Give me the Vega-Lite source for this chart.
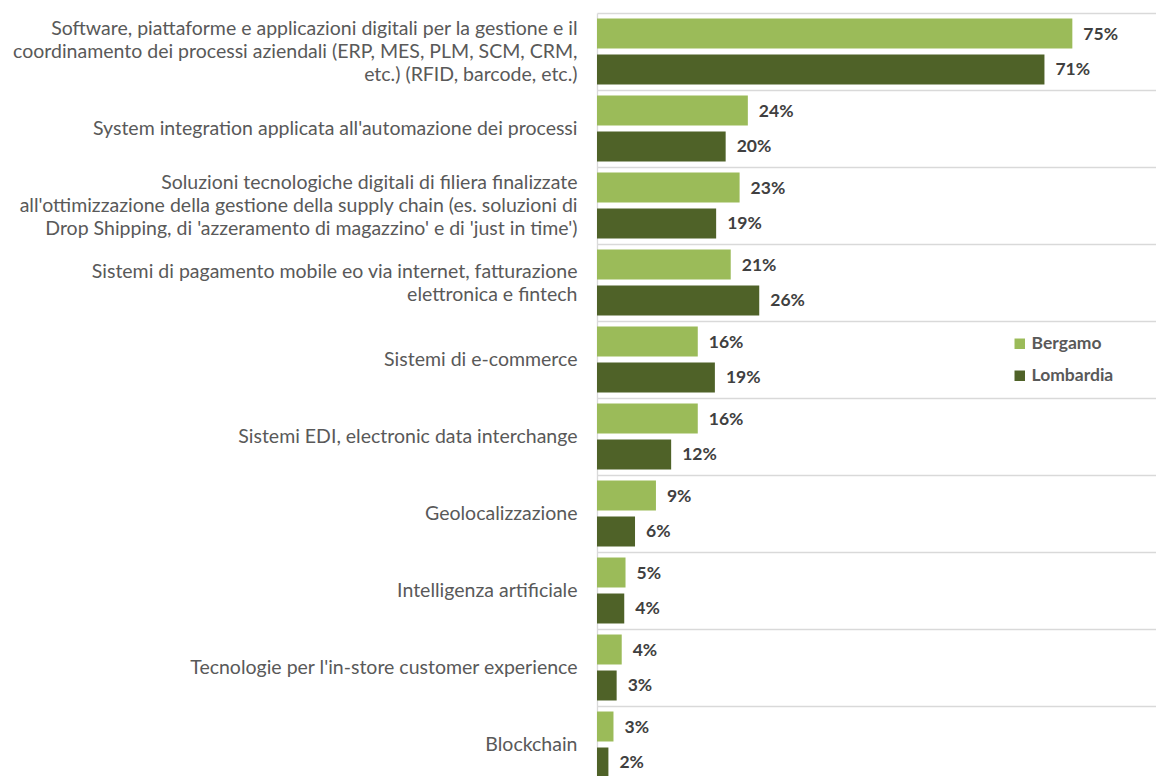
{
  "$schema": "https://vega.github.io/schema/vega-lite/v6.json",
  "width": 559,
  "height": 770,
  "autosize": {"type": "none"},
  "padding": {"left": 597, "top": 13, "right": 0, "bottom": 0},
  "background": "white",
  "config": {"view": {"stroke": null}, "font": "Lato"},
  "data": {
    "values": [
      {"category": "Software, piattaforme e applicazioni digitali per la gestione e il|coordinamento dei processi aziendali (ERP, MES, PLM, SCM, CRM,|etc.) (RFID, barcode, etc.)", "area": "Bergamo", "share": 0.750},
      {"category": "Software, piattaforme e applicazioni digitali per la gestione e il|coordinamento dei processi aziendali (ERP, MES, PLM, SCM, CRM,|etc.) (RFID, barcode, etc.)", "area": "Lombardia", "share": 0.706},
      {"category": "System integration applicata all'automazione dei processi", "area": "Bergamo", "share": 0.238},
      {"category": "System integration applicata all'automazione dei processi", "area": "Lombardia", "share": 0.203},
      {"category": "Soluzioni tecnologiche digitali di filiera finalizzate|all'ottimizzazione della gestione della supply chain (es. soluzioni di|Drop Shipping, di 'azzeramento di magazzino' e di 'just in time')", "area": "Bergamo", "share": 0.225},
      {"category": "Soluzioni tecnologiche digitali di filiera finalizzate|all'ottimizzazione della gestione della supply chain (es. soluzioni di|Drop Shipping, di 'azzeramento di magazzino' e di 'just in time')", "area": "Lombardia", "share": 0.188},
      {"category": "Sistemi di pagamento mobile eo via internet, fatturazione|elettronica e fintech", "area": "Bergamo", "share": 0.211},
      {"category": "Sistemi di pagamento mobile eo via internet, fatturazione|elettronica e fintech", "area": "Lombardia", "share": 0.256},
      {"category": "Sistemi di e-commerce", "area": "Bergamo", "share": 0.159},
      {"category": "Sistemi di e-commerce", "area": "Lombardia", "share": 0.186},
      {"category": "Sistemi EDI, electronic data interchange", "area": "Bergamo", "share": 0.159},
      {"category": "Sistemi EDI, electronic data interchange", "area": "Lombardia", "share": 0.117},
      {"category": "Geolocalizzazione", "area": "Bergamo", "share": 0.093},
      {"category": "Geolocalizzazione", "area": "Lombardia", "share": 0.060},
      {"category": "Intelligenza artificiale", "area": "Bergamo", "share": 0.045},
      {"category": "Intelligenza artificiale", "area": "Lombardia", "share": 0.043},
      {"category": "Tecnologie per l'in-store customer experience", "area": "Bergamo", "share": 0.039},
      {"category": "Tecnologie per l'in-store customer experience", "area": "Lombardia", "share": 0.031},
      {"category": "Blockchain", "area": "Bergamo", "share": 0.026},
      {"category": "Blockchain", "area": "Lombardia", "share": 0.018}
    ]
  },
  "encoding": {
    "y": {
      "field": "category",
      "type": "nominal",
      "sort": null,
      "scale": {"paddingInner": 0, "paddingOuter": 0},
      "axis": {
        "title": null,
        "labelExpr": "split(datum.label, '|')",
        "labelLimit": 0,
        "labelFont": "Lato",
        "labelFontSize": 19.5,
        "labelColor": "#595959",
        "labelPadding": 20,
        "labelLineHeight": 23,
        "labelOffset": {"expr": "-(length(split(datum.value, '|')) - 1) * 11.5"},
        "ticks": false,
        "tickBand": "extent",
        "grid": true,
        "gridColor": "#d9d9d9",
        "gridWidth": 1.3,
        "domain": true,
        "domainColor": "#d9d9d9",
        "domainWidth": 1.3
      }
    },
    "yOffset": {
      "field": "area",
      "type": "nominal",
      "sort": ["Bergamo", "Lombardia"],
      "scale": {"paddingInner": 0.167, "paddingOuter": 0.153}
    },
    "x": {
      "field": "share",
      "type": "quantitative",
      "scale": {"domain": [0, 0.882], "nice": false, "zero": true},
      "axis": null
    }
  },
  "layer": [
    {
      "mark": {"type": "bar"},
      "encoding": {
        "color": {
          "field": "area",
          "type": "nominal",
          "sort": ["Bergamo", "Lombardia"],
          "scale": {"domain": ["Bergamo", "Lombardia"], "range": ["#9BBB59", "#4F6228"]},
          "legend": {
            "orient": "none",
            "legendX": 414,
            "legendY": 322,
            "title": null,
            "symbolType": "square",
            "symbolSize": 110,
            "symbolStrokeWidth": 0,
            "labelFont": "Lato",
            "labelFontSize": 17.5,
            "labelFontWeight": "bold",
            "labelColor": "#595959",
            "labelOffset": 3,
            "rowPadding": 13,
            "padding": 0
          }
        }
      }
    },
    {
      "mark": {"type": "text", "align": "left", "baseline": "middle", "dx": 11, "dy": 1, "fontWeight": "bold", "fontSize": 17.5, "color": "#404040", "font": "Lato"},
      "encoding": {
        "text": {"field": "share", "type": "quantitative", "format": ".0%"}
      }
    }
  ]
}
